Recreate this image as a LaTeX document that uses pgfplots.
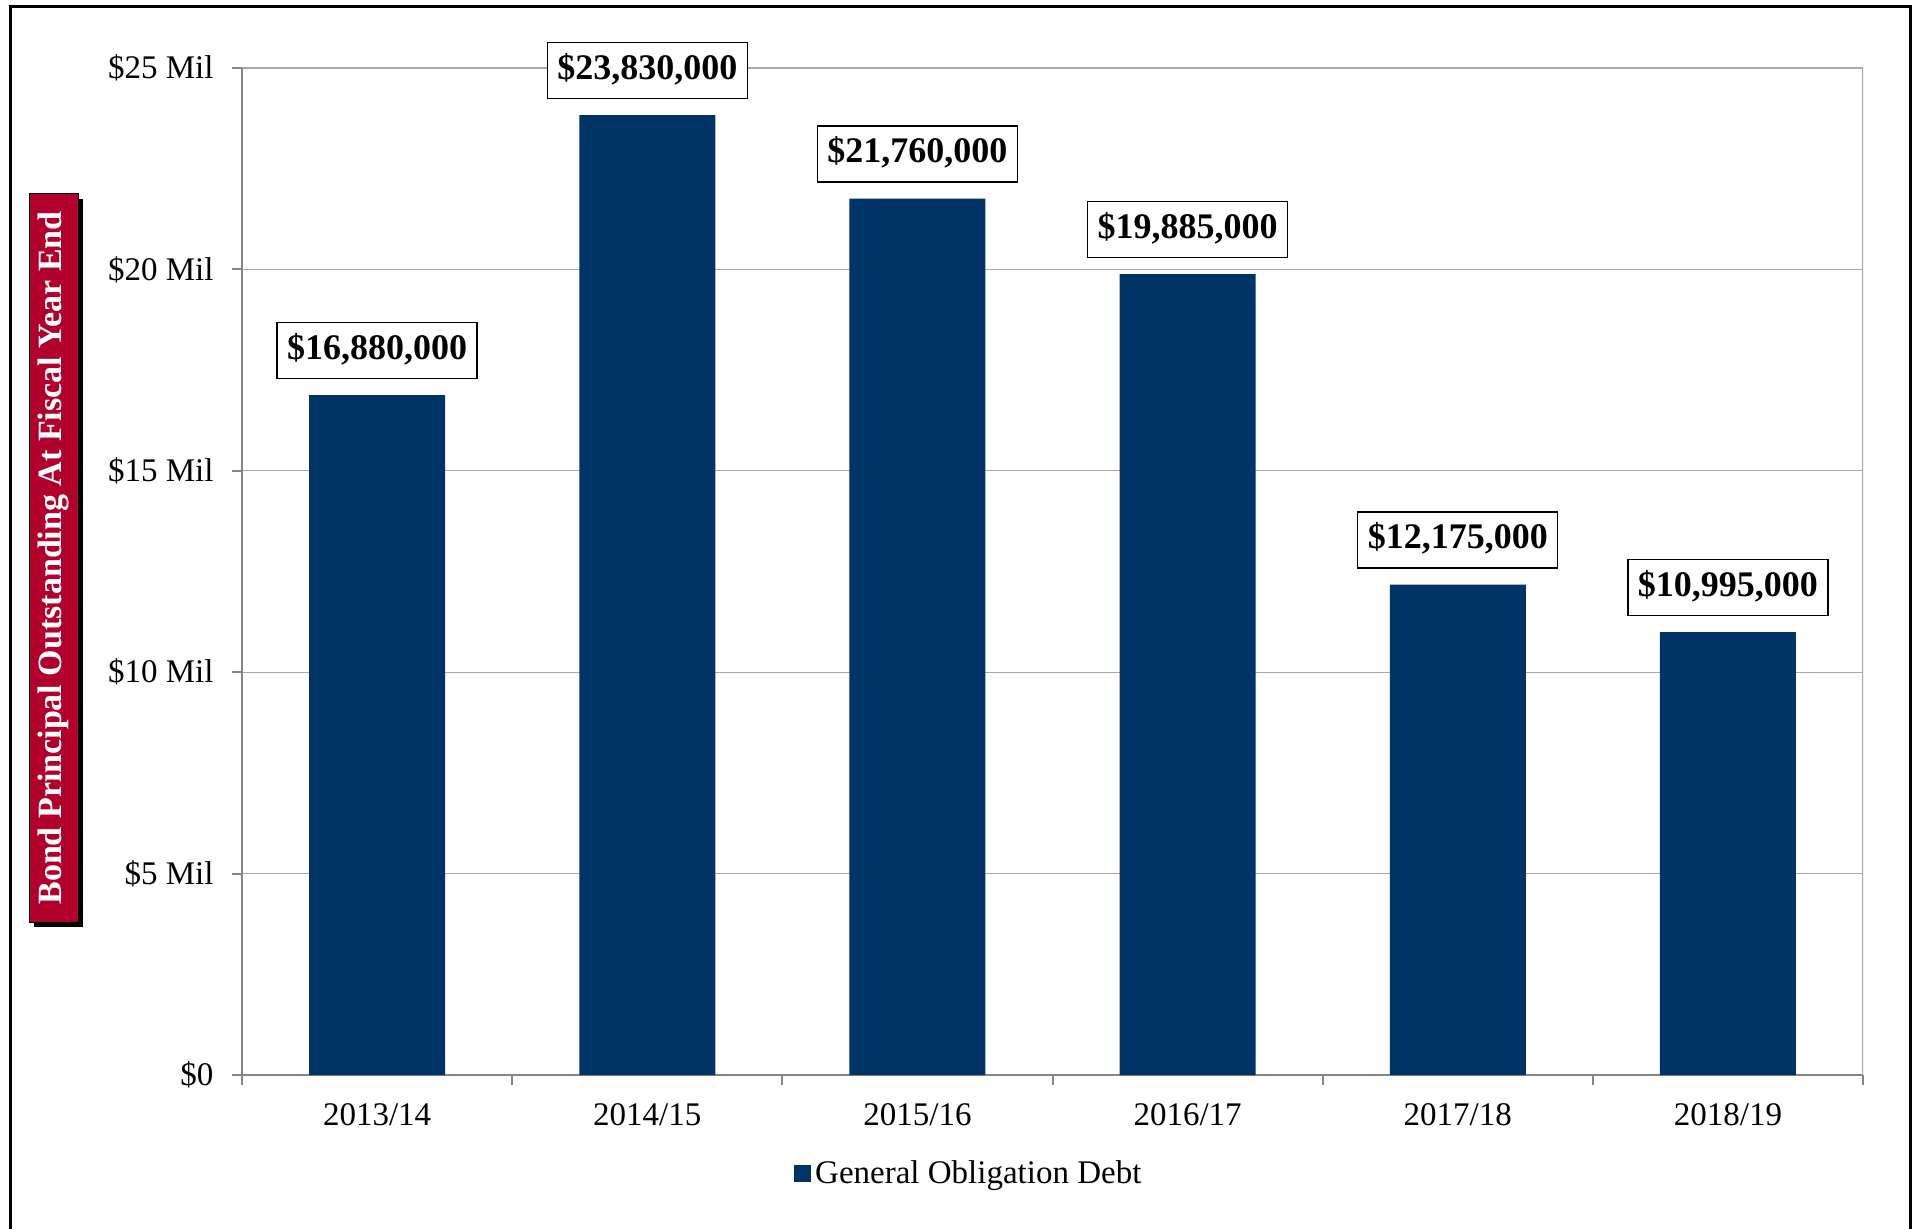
\documentclass[border=0pt]{standalone}
\usepackage{fontspec}
\setmainfont{Liberation Serif}
\usepackage{pgfplots}
\usepackage{pgfplotstable}
\pgfplotsset{compat=1.18}
\definecolor{barblue}{HTML}{003366}
\definecolor{labred}{HTML}{B0002B}
\definecolor{axgray}{HTML}{868686}
\definecolor{gridgray}{HTML}{A8A8A8}

\pgfplotstableread{
x y label
0 16.880 16,880,000
1 23.830 23,830,000
2 21.760 21,760,000
3 19.885 19,885,000
4 12.175 12,175,000
5 10.995 10,995,000
}\datatable

\begin{document}
\begin{tikzpicture}
\useasboundingbox (0,0) rectangle (957.5pt,-614.5pt);
\fill[white] (0,0) rectangle (957.5pt,-614.5pt);
\draw[line width=1.5pt] (5pt,-3.5pt) rectangle (955pt,-640pt);
\begin{axis}[
  at={(121pt,-537.5pt)}, anchor=south west,
  scale only axis, width=810.5pt, height=503.5pt,
  xmin=-0.5, xmax=5.5, ymin=0, ymax=25,
  ybar, bar width=68pt,
  axis x line*=bottom, axis y line*=left,
  axis line style={axgray, line width=1pt, -},
  tick align=outside,
  xtick={0,...,5},
  xticklabels={2013/14,2014/15,2015/16,2016/17,2017/18,2018/19},
  major x tick style={draw=none},
  minor xtick={-0.5,0.5,...,5.5},
  minor tick length=5pt, major tick length=5pt,
  tick style={axgray, line width=1pt},
  minor x tick style={axgray, line width=1pt},
  ytick={0,5,...,25},
  yticklabels={\$0,\$5 Mil,\$10 Mil,\$15 Mil,\$20 Mil,\$25 Mil},
  ymajorgrids, grid style={gridgray, line width=0.6pt},
  ticklabel style={font=\fontsize{16.5}{19}\selectfont},
  yticklabel style={xshift=-5.75pt},
  xticklabel style={yshift=-5.5pt},
  point meta=explicit symbolic,
  nodes near coords={\$\pgfplotspointmeta},
  nodes near coords style={anchor=south, yshift=8pt, draw=black, line width=0.6pt, fill=white,
    font=\bfseries\fontsize{18}{21}\selectfont, inner xsep=5pt, inner ysep=5.5pt, text height=13pt, text depth=4pt},
  legend style={at={(0.449,-0.098)}, anchor=center, draw=none, fill=none,
    font=\fontsize{16.5}{19}\selectfont},
]
\addplot[fill=barblue, draw=none,
  legend image code/.code={\fill[barblue] (0pt,-4.25pt) rectangle (8.5pt,4.25pt);}]
  table[x=x, y=y, meta=label] {\datatable};
\addlegendentry{General Obligation Debt}
\draw[gridgray, line width=0.6pt] (rel axis cs:1,0) -- (rel axis cs:1,1);
\end{axis}
\node[fill=black, minimum width=364pt, minimum height=24.5pt, inner sep=0pt, rotate=90]
  at (29pt,-281.5pt) {};
\node[fill=labred, draw=black, line width=0.5pt, minimum width=364pt, minimum height=24.5pt, inner sep=0pt,
  rotate=90, text=white, font=\bfseries\fontsize{17}{20}\selectfont]
  at (26.75pt,-279pt) {Bond Principal Outstanding At Fiscal Year End};
\end{tikzpicture}
\end{document}
